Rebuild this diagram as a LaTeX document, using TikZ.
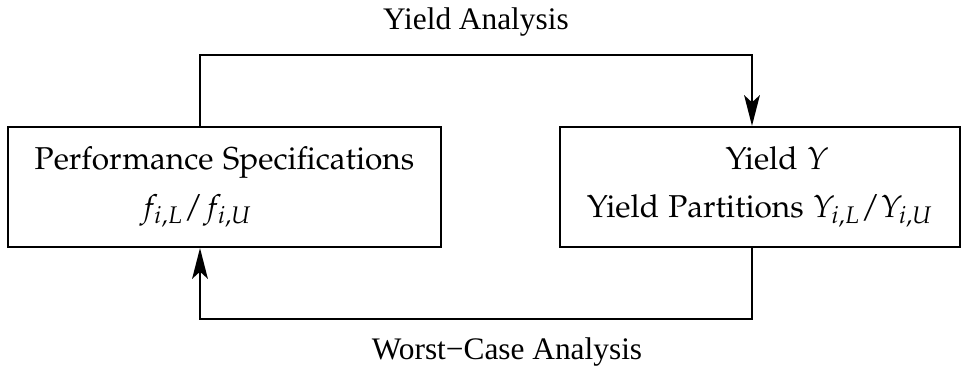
\documentclass[tikz,border=0pt]{standalone}
\usepackage[T1]{fontenc}
\usepackage{mathpazo}
\usepackage{fontspec}
\newfontfamily\labelfont{Liberation Serif}
\usepackage{tikz}
\usetikzlibrary{arrows.meta,positioning}

\newcommand{\pala}{\fontencoding{T1}\fontfamily{pplx}\selectfont}

\begin{document}
\begin{tikzpicture}[
  x=0.014cm, y=-0.014cm,
  >={Stealth[length=4.3mm,width=2.2mm,inset=1mm]},
  flowbox/.style={
    draw=black,
    line width=0.9pt,
    minimum height=1.68cm,
    align=center,
    font=\pala\fontsize{12.6}{19}\selectfont
  },
  flowline/.style={
    ->,
    line width=0.9pt
  },
  flowlabel/.style={
    font=\labelfont\fontsize{12.5}{15}\selectfont
  }
]
  \useasboundingbox (0,0) rectangle (962,376);

  % ----------------------------------------------------
  % THE TWO BOXES
  % ----------------------------------------------------
  \node[flowbox, minimum width=6.062cm] (spec) at (224.5,187) {
    Performance Specifications\\
    $f_{i,L}/f_{i,U}$\hspace*{0.8cm}
  };

  \node[flowbox, minimum width=5.6cm] (yield) at (760,187) {
    \hspace*{0.48cm}Yield $Y$\\
    Yield Partitions $Y_{i,L}/Y_{i,U}$
  };

  % ----------------------------------------------------
  % LOOP CONNECTORS
  % ----------------------------------------------------
  \coordinate (specport) at (200,0);
  \coordinate (yieldport) at (752,0);
  \coordinate (toprun) at (480,55);
  \coordinate (botrun) at (480,319);

  \draw[flowline] (spec.north -| specport) |- (toprun) -| (yield.north -| yieldport);
  \draw[flowline] (yield.south -| yieldport) |- (botrun) -| (spec.south -| specport);

  \node[flowlabel] (lblyield) at (476,22) {Yield Analysis};
  \node[flowlabel] (lblworst) at (507,352) {Worst−Case Analysis};

\end{tikzpicture}
\end{document}
